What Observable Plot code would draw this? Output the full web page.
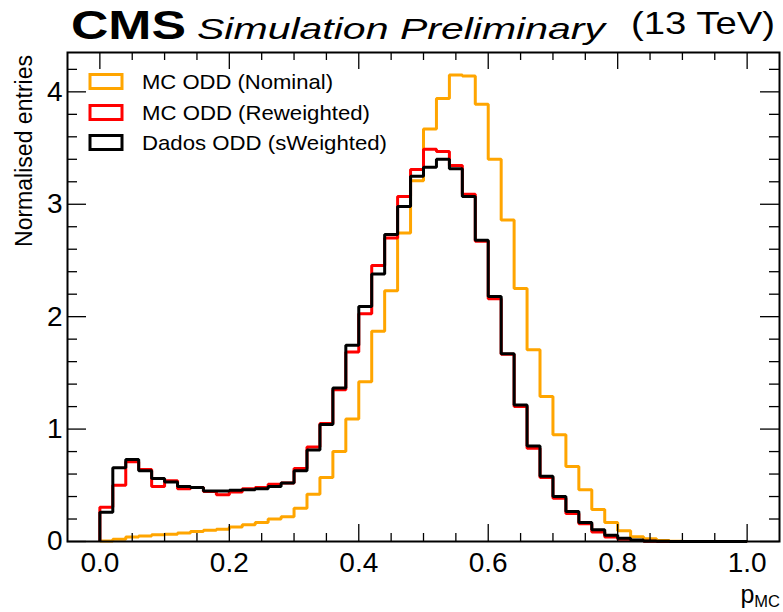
<!DOCTYPE html>
<html><head><meta charset="utf-8">
<script src="https://cdn.jsdelivr.net/npm/d3@7"></script>
<script src="https://cdn.jsdelivr.net/npm/@observablehq/plot@0.6"></script>
<style>body{margin:0;background:#fff} #chart{width:783px;height:612px}</style>
</head><body><div id="chart"></div>
<script>
// 50 bins of width 0.02 on [0, 1]
const binEdges = d3.range(51).map(i => i / 50);
const nominal = [0.005,0.02,0.04,0.05,0.06,0.065,0.075,0.09,0.10,0.11,
  0.13,0.15,0.17,0.20,0.22,0.295,0.42,0.57,0.80,1.09,
  1.42,1.87,2.23,2.745,3.21,3.67,3.94,4.15,4.14,3.89,
  3.40,2.86,2.25,1.705,1.29,0.95,0.667,0.46,0.285,0.17,
  0.095,0.042,0.024,0.008,0.002,0,0,0,0,0];
const reweighted = [0.305,0.50,0.71,0.64,0.49,0.54,0.47,0.48,0.445,0.415,
  0.44,0.47,0.48,0.51,0.52,0.65,0.84,1.05,1.35,1.685,
  2.025,2.455,2.70,3.07,3.31,3.49,3.47,3.345,3.09,2.67,
  2.16,1.665,1.20,0.83,0.57,0.385,0.25,0.157,0.085,0.04,
  0.02,0.008,0.003,0,0,0,0,0,0,0];
const dados = [0.26,0.655,0.73,0.63,0.56,0.53,0.49,0.48,0.45,0.45,
  0.455,0.46,0.47,0.49,0.52,0.63,0.815,1.04,1.365,1.745,
  2.09,2.38,2.73,2.98,3.25,3.33,3.40,3.315,3.07,2.68,
  2.18,1.67,1.215,0.85,0.58,0.40,0.267,0.17,0.105,0.055,
  0.03,0.013,0.005,0.002,0,0,0,0,0,0];
const seriesNames = ["MC ODD (Nominal)", "MC ODD (Reweighted)", "Dados ODD (sWeighted)"];
const seriesColors = ["#ffa500", "#ff0000", "#000000"];
const xTicks = [0, 0.2, 0.4, 0.6, 0.8, 1.0];
const xMinor = [0.05,0.1,0.15,0.25,0.3,0.35,0.45,0.5,0.55,0.65,0.7,0.75,0.85,0.9,0.95];
const yTicks = [0, 1, 2, 3, 4];
const yMinor = [0.2,0.4,0.6,0.8,1.2,1.4,1.6,1.8,2.2,2.4,2.6,2.8,3.2,3.4,3.6,3.8,4.2];
const xDomain = [-0.05, 1.05];
const yDomain = [0, 4.35];

function stepData(vals) {
  const pts = [{x: binEdges[0], y: 0}];
  vals.forEach((v, i) => pts.push({x: binEdges[i], y: v}));
  pts.push({x: binEdges[50], y: vals[49]});
  pts.push({x: binEdges[50], y: 0});
  return pts;
}
const series = [nominal, reweighted, dados];
const tickStyle = {stroke: "black", strokeWidth: 1.3};

const chart = Plot.plot({
  width: 783, height: 612,
  marginLeft: 67, marginRight: 4, marginTop: 52, marginBottom: 71,
  style: {fontFamily: "'Liberation Sans', Arial, sans-serif", fontSize: "28px", color: "black", background: "white", overflow: "visible"},
  x: {domain: xDomain},
  y: {domain: yDomain},
  marks: [
    ...series.map((s, k) => Plot.line(stepData(s), {x: "x", y: "y", curve: "step-after", stroke: seriesColors[k], strokeWidth: 3, strokeLinejoin: "miter", strokeLinecap: "butt"})),
    // bottom / top ticks (inward)
    Plot.ruleX(xTicks, {x: d => d, y1: yDomain[0], y2: yDomain[0], insetTop: -17, ...tickStyle}),
    Plot.ruleX(xMinor, {x: d => d, y1: yDomain[0], y2: yDomain[0], insetTop: -8, ...tickStyle}),
    Plot.ruleX(xTicks, {x: d => d, y1: yDomain[1], y2: yDomain[1], insetBottom: -17, ...tickStyle}),
    Plot.ruleX(xMinor, {x: d => d, y1: yDomain[1], y2: yDomain[1], insetBottom: -8, ...tickStyle}),
    // left / right ticks (inward)
    Plot.ruleY(yTicks, {y: d => d, x1: xDomain[0], x2: xDomain[0], insetRight: -19, ...tickStyle}),
    Plot.ruleY(yMinor, {y: d => d, x1: xDomain[0], x2: xDomain[0], insetRight: -10, ...tickStyle}),
    Plot.ruleY(yTicks, {y: d => d, x1: xDomain[1], x2: xDomain[1], insetLeft: -19, ...tickStyle}),
    Plot.ruleY(yMinor, {y: d => d, x1: xDomain[1], x2: xDomain[1], insetLeft: -10, ...tickStyle}),
    Plot.frame({stroke: "black", strokeWidth: 2}),
    Plot.axisX({ticks: xTicks, tickSize: 0, tickPadding: 11, tickFormat: d3.format(".1f"), label: null}),
    Plot.axisY({ticks: yTicks, tickSize: 0, tickPadding: 5, tickFormat: d3.format("d"), label: null})
  ]
});
document.getElementById("chart").appendChild(chart);

const svg = d3.select(chart);
const ff = "'Liberation Sans', Arial, sans-serif";
function addText(txt, x, y, size, len, opts = {}) {
  const t = svg.append("text").attr("x", x).attr("y", y)
    .attr("font-family", ff).attr("font-size", size).attr("fill", "black")
    .attr("text-anchor", "start")
    .text(txt);
  if (len) t.attr("textLength", len).attr("lengthAdjust", "spacingAndGlyphs");
  for (const k in opts) t.attr(k, opts[k]);
  return t;
}
// header
addText("CMS", 71, 38.5, 40, 115, {"font-weight": "bold"});
addText("Simulation Preliminary", 197, 38.5, 29, 408, {"font-style": "italic"});
addText("(13 TeV)", 631, 34, 32, 144);

// legend
const legY = [81.5, 112.5, 142.5];
const legLen = [191, 228, 245];
seriesNames.forEach((name, k) => {
  svg.append("rect").attr("x", 90).attr("y", legY[k] - 7).attr("width", 32).attr("height", 14)
    .attr("fill", "none").attr("stroke", seriesColors[k]).attr("stroke-width", 3);
  addText(name, 142, legY[k] + 7.5, 21, legLen[k]);
});

// y label (top aligned)
addText("Normalised entries", 0, 0, 23, 192, {"text-anchor": "end", transform: "translate(32,55) rotate(-90)"});

// x label p_MC (right aligned)
const xl = svg.append("text").attr("x", 780).attr("y", 603).attr("text-anchor", "end")
  .attr("font-family", ff).attr("fill", "black");
xl.append("tspan").attr("font-size", 25).text("p");
xl.append("tspan").attr("font-size", 16.5).attr("dy", 4).text("MC");
</script>
</body></html>
